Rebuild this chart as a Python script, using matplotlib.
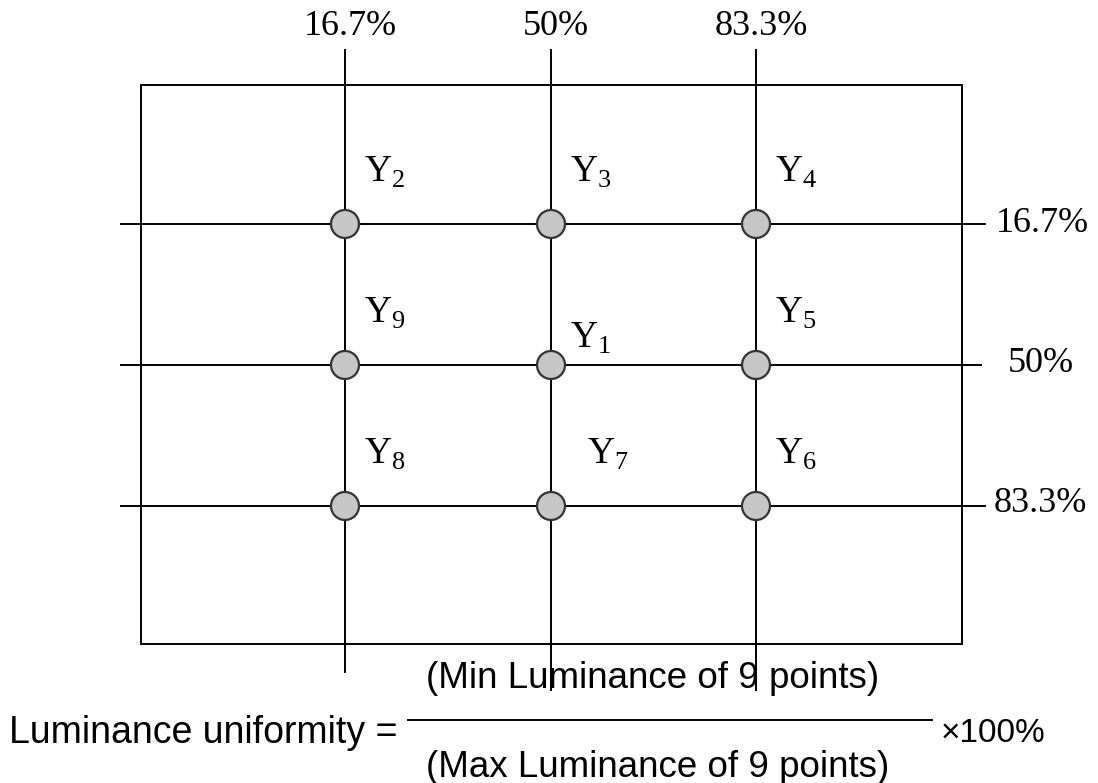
import matplotlib.pyplot as plt
from matplotlib.patches import Circle, Rectangle

# layout of the measuring diagram (pixel-like units of the drawing)
col_pos = [345, 551, 756]
row_pos = [224, 365, 506]
col_labels = ["16.7%", "50%", "83.3%"]
row_labels = ["16.7%", "50%", "83.3%"]

# point names, row by row
point_names = [["2", "3", "4"],
               ["9", "1", "5"],
               ["8", "7", "6"]]

plt.rcParams['mathtext.fontset'] = 'custom'
plt.rcParams['mathtext.rm'] = 'Liberation Serif'

fig = plt.figure(figsize=(10.98, 7.83), dpi=100)
ax = fig.add_axes([0, 0, 1, 1])
ax.set_xlim(0, 1098)
ax.set_ylim(783, 0)
ax.axis('off')

serif = 'Liberation Serif'
sans = 'Liberation Sans'

# frame of the screen
ax.add_patch(Rectangle((141, 85), 821, 559, fill=False, lw=1.4, ec='black'))

# grid lines
vbottom = [672, 690, 690]
for x, yb in zip(col_pos, vbottom):
    ax.plot([x, x], [50, yb], color='black', lw=1.4)
hright = [985, 981, 985]
for y, xr in zip(row_pos, hright):
    ax.plot([121, xr], [y, y], color='black', lw=1.4)

# column / row percent labels
for x, lab in zip(col_pos, col_labels):
    ax.text(x + 5, 35, lab, fontsize=26, family=serif, ha='center', va='baseline')
row_lab_x = [996, 1008, 994]
row_lab_dy = [8, 7, 6]
for y, xl, dy, lab in zip(row_pos, row_lab_x, row_lab_dy, row_labels):
    ax.text(xl, y + dy, lab, fontsize=26, family=serif, ha='left', va='baseline')

# measuring points
for i, y in enumerate(row_pos):
    for j, x in enumerate(col_pos):
        ax.add_patch(Circle((x, y), 14, fc='#c6c6c6', ec='#333333', lw=1.6, zorder=3))
        name = point_names[i][j]
        lx, ly = x + 19, y - 42
        if name == "1":
            ly = y - 17
        if name == "7":
            lx = x + 36
        ax.text(lx, ly, r'$\mathrm{Y}_{\mathrm{' + name + '}}$', fontsize=27,
                ha='left', va='baseline')

# uniformity formula
ax.text(426, 688, "(Min Luminance of 9 points)", fontsize=26.5, family=sans,
        ha='left', va='baseline')
ax.text(426, 777, "(Max Luminance of 9 points)", fontsize=26.5, family=sans,
        ha='left', va='baseline')
ax.plot([408, 932], [720, 720], color='black', lw=1.4)
ax.text(9, 743, "Luminance uniformity =", fontsize=27, family=sans,
        ha='left', va='baseline')
ax.text(941, 742, "×100%", fontsize=24, family=sans, ha='left', va='baseline')

fig.savefig("out.png", dpi=100, facecolor='white')
